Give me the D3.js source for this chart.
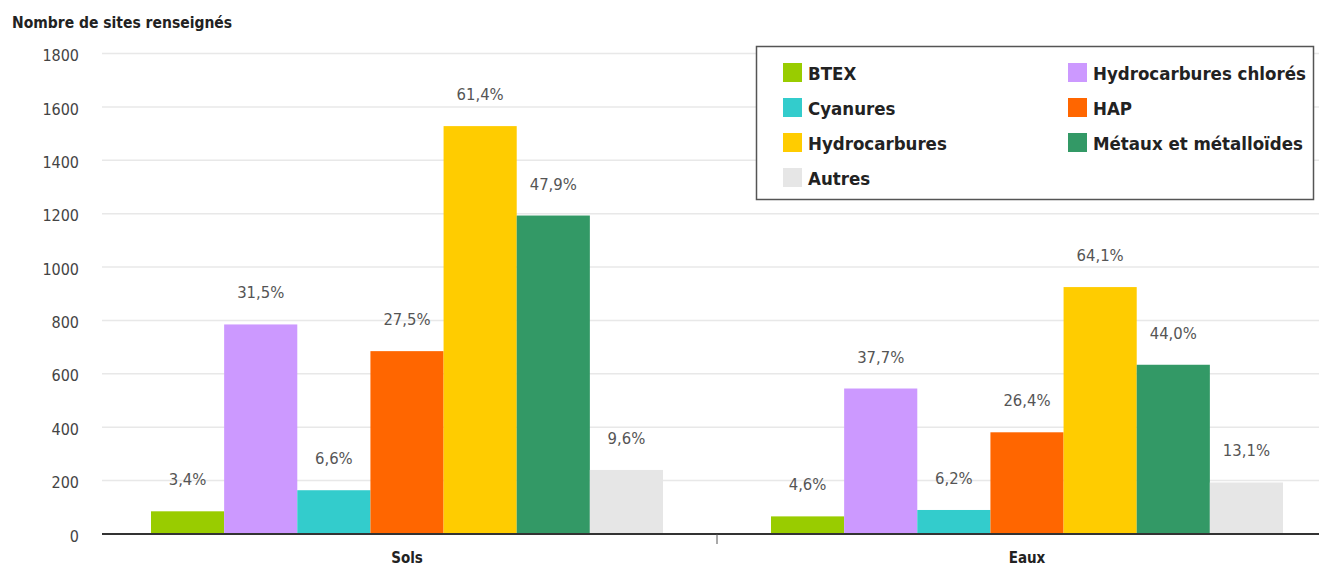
<!DOCTYPE html>
<html>
<head>
<meta charset="utf-8">
<script src="https://cdn.jsdelivr.net/npm/d3@7"></script>
<style>
  body { margin: 0; background: #fff; }
  text { font-family: "DejaVu Sans Condensed", "Liberation Sans Narrow", "DejaVu Sans", sans-serif; }
</style>
</head>
<body>
<div id="chart"></div>
<script>
// data
const milieux = ["Sols", "Eaux"];
const polluants = ["BTEX", "Hydrocarbures chlorés", "Cyanures", "HAP", "Hydrocarbures", "Métaux et métalloïdes", "Autres"];
const couleurs = ["#99cc00", "#cc99ff", "#33cccc", "#ff6600", "#ffcc00", "#339966", "#e6e6e6"];
const valeursSols = [85, 785, 164, 685, 1528, 1193, 240];
const valeursEaux = [66, 545, 90, 381, 925, 634, 193];
const pctSols = ["3,4%", "31,5%", "6,6%", "27,5%", "61,4%", "47,9%", "9,6%"];
const pctEaux = ["4,6%", "37,7%", "6,2%", "26,4%", "64,1%", "44,0%", "13,1%"];
const yTicks = [0, 200, 400, 600, 800, 1000, 1200, 1400, 1600, 1800];

// legend order (two columns)
const legendeCol1 = ["BTEX", "Cyanures", "Hydrocarbures", "Autres"];
const legendeCol2 = ["Hydrocarbures chlorés", "HAP", "Métaux et métalloïdes"];

const width = 1319, height = 566;
const svg = d3.select("#chart").append("svg")
  .attr("width", width)
  .attr("height", height);

const y = d3.scaleLinear().domain([0, 1800]).range([534, 53.5]);
const x0 = d3.scaleBand().domain(milieux).range([97, 1337]).padding(0);
const x1 = d3.scaleBand().domain(polluants).range([54, 566]).padding(0);
const color = d3.scaleOrdinal().domain(polluants).range(couleurs);

// gridlines
svg.append("g")
  .selectAll("line")
  .data(yTicks.slice(1))
  .enter().append("line")
  .attr("x1", 102).attr("x2", width)
  .attr("y1", d => y(d)).attr("y2", d => y(d))
  .attr("stroke", "#e8e8e8")
  .attr("stroke-width", 1.5);

// y axis labels
const yAxis = d3.axisLeft(y).tickValues(yTicks).tickFormat(d3.format("d")).tickSize(0).tickPadding(0);
const gy = svg.append("g").attr("transform", "translate(79,2)").call(yAxis);
gy.select(".domain").remove();
gy.selectAll("text")
  .attr("font-size", 16)
  .attr("fill", "#444")
  .style("font-family", "\"DejaVu Sans Condensed\", \"Liberation Sans Narrow\", sans-serif");

// title
svg.append("text")
  .attr("x", 12).attr("y", 28)
  .attr("font-size", 15.5)
  .attr("font-weight", "bold")
  .attr("fill", "#222")
  .text("Nombre de sites renseignés");

// bars
const rows = milieux.map((m, i) => ({
  milieu: m,
  values: polluants.map((p, j) => ({
    key: p,
    value: i === 0 ? valeursSols[j] : valeursEaux[j],
    pct: i === 0 ? pctSols[j] : pctEaux[j]
  }))
}));

const groups = svg.append("g")
  .selectAll("g")
  .data(rows)
  .enter().append("g")
  .attr("transform", d => `translate(${x0(d.milieu)},0)`);

groups.selectAll("rect")
  .data(d => d.values)
  .enter().append("rect")
  .attr("x", d => x1(d.key))
  .attr("width", x1.bandwidth())
  .attr("y", d => y(d.value))
  .attr("height", d => y(0) - y(d.value))
  .attr("fill", d => color(d.key));

groups.selectAll("text.pct")
  .data(d => d.values)
  .enter().append("text")
  .attr("class", "pct")
  .attr("x", d => x1(d.key) + x1.bandwidth() / 2)
  .attr("y", d => y(d.value) - 26)
  .attr("text-anchor", "middle")
  .attr("font-size", 16.5)
  .attr("fill", "#555")
  .text(d => d.pct);

// x axis
svg.append("line")
  .attr("x1", 102).attr("x2", width)
  .attr("y1", y(0)).attr("y2", y(0))
  .attr("stroke", "#333")
  .attr("stroke-width", 2);

svg.append("line")
  .attr("x1", x0("Eaux")).attr("x2", x0("Eaux"))
  .attr("y1", y(0)).attr("y2", y(0) + 10)
  .attr("stroke", "#555")
  .attr("stroke-width", 1);

svg.append("g")
  .selectAll("text")
  .data(milieux)
  .enter().append("text")
  .attr("x", d => x0(d) + 310)
  .attr("y", 563)
  .attr("text-anchor", "middle")
  .attr("font-size", 15)
  .attr("font-weight", "bold")
  .attr("fill", "#222")
  .text(d => d);

// legend
const legend = svg.append("g");
legend.append("rect")
  .attr("x", 756.5).attr("y", 46.5)
  .attr("width", 557).attr("height", 153)
  .attr("fill", "#fff")
  .attr("stroke", "#555")
  .attr("stroke-width", 1.5);

const legendItems = legendeCol1.map((k, i) => ({ key: k, col: 0, row: i }))
  .concat(legendeCol2.map((k, i) => ({ key: k, col: 1, row: i })));

const li = legend.selectAll("g.item")
  .data(legendItems)
  .enter().append("g")
  .attr("class", "item")
  .attr("transform", d => `translate(${d.col === 0 ? 783 : 1068},${72.5 + d.row * 35})`);

li.append("rect")
  .attr("x", 0).attr("y", -9.5)
  .attr("width", 19).attr("height", 19)
  .attr("fill", d => color(d.key));

li.append("text")
  .attr("x", 25).attr("y", 7)
  .attr("font-size", 18.5)
  .attr("font-weight", "bold")
  .attr("fill", "#222")
  .text(d => d.key);
</script>
</body>
</html>
